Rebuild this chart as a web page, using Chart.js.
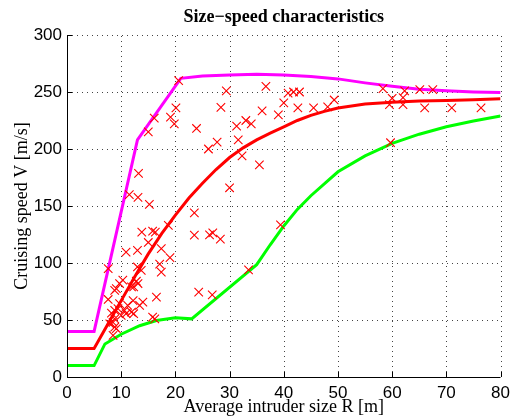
<!DOCTYPE html>
<html>
<head>
<meta charset="utf-8">
<script src="https://cdn.jsdelivr.net/npm/chart.js@4"></script>
<style>
html,body{margin:0;padding:0;background:#fff;}
canvas{display:block;}
</style>
</head>
<body>
<canvas id="c" width="516" height="420"></canvas>
<script>
// Tick values
const xTicks = [0,10,20,30,40,50,60,70,80];
const yTicks = [0,50,100,150,200,250,300];

// Upper bound curve (magenta)
const upperX = [0,5,13,21,25,30,35,40,45,50,55,60,65,70,75,80];
const upperY = [40,40,208,262,264,265,265.5,265,263.5,261.5,258,255,252.5,251,250,249.5];

// Mean curve (red)
const meanX = [0,5,7.5,10,12.5,15,17.5,20,22.5,25,27.5,30,32.5,35,37.5,40,42.5,45,47.5,50,55,60,65,70,75,80];
const meanY = [25,25,46,67,88,108,126,142,157,170,182,192.5,201,208,214,219.5,225,229.5,233,236,239.5,241,242,242.5,243.2,244];

// Lower bound curve (green)
const lowerX = [0,5,7,10,13.4,16.5,20,23,35,37.5,40,42.5,45,50,55,60,65,70,75,80];
const lowerY = [10,10,29,37.5,45,49.5,52,51,98.5,116,132.5,147,159,180,194,205,213,219.5,224.5,229];

// Observed aircraft (red crosses)
const obsR = [20.6,29.4,36.7,20.1,28.4,16.1,19.1,19.8,15.0,23.9,26.1,27.7,31.3,33.0,34.0,31.6,32.3,35.5,30.0,36.0,39.0,40.0,40.8,41.8,42.9,42.6,45.5,48.1,49.3,58.3,62.3,65.1,67.5,60.0,62.0,59.5,62.0,66.0,71.0,76.4,59.7,13.2,11.5,13.1,15.2,23.5,23.5,26.3,26.9,28.3,24.3,26.8,33.5,39.4,13.8,15.8,16.3,18.7,15.0,10.9,13.0,17.4,19.0,7.6,13.0,13.7,17.1,17.4,10.3,9.7,9.1,8.8,12.8,13.1,11.9,12.3,16.5,7.6,12.2,14.0,13.4,11.2,9.7,9.4,8.8,8.2,10.6,10.9,11.9,12.3,10.0,8.8,8.5,7.9,8.8,9.1,8.5,16.2,15.8];
const obsV = [260,251,255,236,236.5,227,228,222,215,218,200,206,220,225,222,208,194,186,166,233.5,230,240.5,249,250,250,236,236,237,243,253,251,252,252,244.5,245,239,239,236,236,236,205.5,178.6,160,157.5,151.5,144,124.5,124.6,126.4,121,74.5,72,94,133.4,127,128,127,133,118,109.5,111,112.7,104.7,95,96.5,93.6,99,92,85,82,77.5,76,84,82,79,79,70,68,67,65.7,62.8,62.8,64.3,60,58.4,56,58.4,55.5,57,55.5,54,51,48,46.7,43.8,42.4,36.5,51,52.5];

const titleText = 'Size\u2212speed characteristics';

const zip = (xs, ys) => xs.map((x, i) => ({x: x, y: ys[i]}));

const dottedGrid = {
  id: 'dottedGrid',
  beforeDatasetsDraw(chart) {
    const ctx = chart.ctx, xs = chart.scales.x, ys = chart.scales.y, a = chart.chartArea;
    ctx.save();
    ctx.strokeStyle = '#444';
    ctx.lineWidth = 1;
    ctx.setLineDash([1, 4]);
    ctx.beginPath();
    xTicks.forEach(v => {
      if (v === xTicks[0]) return;
      const px = Math.round(xs.getPixelForValue(v)) + 0.5;
      ctx.moveTo(px, a.bottom); ctx.lineTo(px, a.top);
    });
    yTicks.forEach(v => {
      if (v === yTicks[0]) return;
      const py = Math.round(ys.getPixelForValue(v)) + 0.5;
      ctx.moveTo(a.left, py); ctx.lineTo(a.right, py);
    });
    ctx.stroke();
    ctx.restore();
  }
};

const decorations = {
  id: 'decorations',
  afterDraw(chart) {
    const ctx = chart.ctx, xs = chart.scales.x, ys = chart.scales.y, a = chart.chartArea;
    ctx.save();
    ctx.strokeStyle = '#000';
    ctx.lineWidth = 1;
    ctx.setLineDash([]);
    ctx.beginPath();
    xTicks.forEach(v => {
      const px = Math.round(xs.getPixelForValue(v)) + 0.5;
      ctx.moveTo(px, a.bottom); ctx.lineTo(px, a.bottom - 5);
    });
    yTicks.forEach(v => {
      const py = Math.round(ys.getPixelForValue(v)) + 0.5;
      ctx.moveTo(a.left, py); ctx.lineTo(a.left + 5, py);
    });
    const l = Math.round(a.left) + 0.5, b = Math.round(a.bottom) + 0.5;
    ctx.moveTo(l, a.top); ctx.lineTo(l, b); ctx.lineTo(a.right, b);
    ctx.stroke();
    // title centred over plot area
    ctx.fillStyle = '#000';
    ctx.font = 'bold 18px "Liberation Serif"';
    ctx.textAlign = 'center';
    ctx.textBaseline = 'middle';
    ctx.fillText(titleText, (a.left + a.right) / 2, 17);
    ctx.restore();
  }
};

new Chart(document.getElementById('c'), {
  type: 'scatter',
  data: {
    datasets: [
      {type:'scatter', label:'Observed', data: zip(obsR, obsV), pointStyle:'crossRot', pointRadius:6, pointHoverRadius:6, borderColor:'#ff0000', backgroundColor:'#ff0000', borderWidth:1.1, order:0},
      {type:'line', label:'Upper', data: zip(upperX, upperY), borderColor:'#ff00ff', borderWidth:3, pointRadius:0, tension:0, fill:false, order:3},
      {type:'line', label:'Mean', data: zip(meanX, meanY), borderColor:'#ff0000', borderWidth:3, pointRadius:0, tension:0, fill:false, order:2},
      {type:'line', label:'Lower', data: zip(lowerX, lowerY), borderColor:'#00ff00', borderWidth:3, pointRadius:0, tension:0, fill:false, order:1}
    ]
  },
  options: {
    responsive: false,
    animation: false,
    events: [],
    layout: {padding: {top:35, right:14, bottom:0, left:0}},
    plugins: {
      legend: {display:false},
      tooltip: {enabled:false},
      title: {display:false}
    },
    scales: {
      x: {
        type: 'linear', min: 0, max: 80,
        afterBuildTicks: s => { s.ticks = xTicks.map(v => ({value:v})); },
        afterFit: s => { s.height = 43; },
        ticks: {color:'#000', font:{family:'Liberation Sans', size:17}, padding:6, maxRotation:0},
        grid: {display:false, drawTicks:false},
        border: {display:false},
        title: {display:true, text:'Average intruder size R [m]', color:'#000', font:{family:'Liberation Serif', size:18}, padding:{top:0, bottom:2}}
      },
      y: {
        type: 'linear', min: 0, max: 300,
        afterBuildTicks: s => { s.ticks = yTicks.map(v => ({value:v})); },
        afterFit: s => { s.width = 67; },
        ticks: {color:'#000', font:{family:'Liberation Sans', size:17}, padding:5},
        grid: {display:false, drawTicks:false},
        border: {display:false},
        title: {display:true, text:'Cruising speed V [m/s]', color:'#000', font:{family:'Liberation Serif', size:18}, padding:{top:11, bottom:0}}
      }
    }
  },
  plugins: [dottedGrid, decorations]
});
</script>
</body>
</html>
